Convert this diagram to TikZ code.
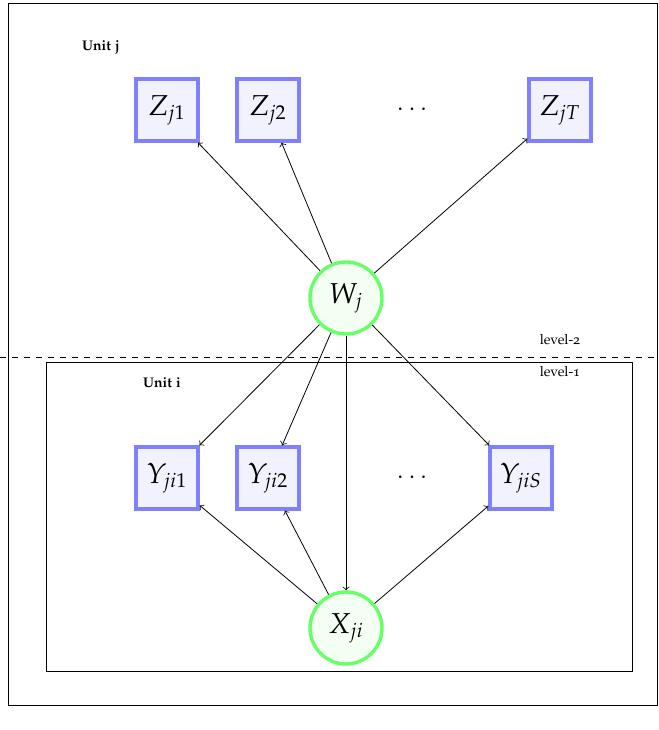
\documentclass[tikz,border=0pt]{standalone}
\usepackage[T1]{fontenc}
\usepackage[osf]{mathpazo}
\begin{document}
\begin{tikzpicture}[x=0.5pt,y=-0.5pt,
  obs/.style={draw=blue!50, fill=blue!5, line width=1.7pt, minimum size=31pt, inner sep=0pt, font=\Large},
  lat/.style={circle, draw=green!60, fill=green!5, line width=1.7pt, minimum size=36pt, inner sep=0pt, font=\Large},
  lbl/.style={font=\scriptsize},
  arr/.style={->, line width=0.4pt},
  frame/.style={draw, line width=0.4pt}]
\useasboundingbox (0,0) rectangle (659,730);
\draw[frame] (8,3) rectangle (657,705);
\draw[frame] (46,362) rectangle (632,671);
\draw[dashed, line width=0.4pt] (0,357) -- (659,357);
\node[lbl] (uj) at (101,47) {\textbf{Unit j}};
\node[lbl] (ui) at (162,383) {\textbf{Unit i}};
\node[lbl] (l2) at (560,340) {level-2};
\node[lbl] (l1) at (560,372) {level-1};
\node[obs] (z1) at (167,110) {$Z_{j1}$};
\node[obs] (z2) at (268,110) {$Z_{j2}$};
\node[font=\large] (zd) at (412,110) {$\cdots$};
\node[obs] (zt) at (560,110) {$Z_{jT}$};
\node[lat] (w) at (346,298) {$W_j$};
\node[obs] (y1) at (167,478) {$Y_{ji1}$};
\node[obs] (y2) at (268,478) {$Y_{ji2}$};
\node[font=\large] (yd) at (412,478) {$\cdots$};
\node[obs] (ys) at (521,478) {$Y_{jiS}$};
\node[lat] (x) at (346,628) {$X_{ji}$};
\foreach \t in {z1,z2,zt,y1,y2,ys,x} \draw[arr] (w) -- (\t);
\foreach \t in {y1,y2,ys} \draw[arr] (x) -- (\t);
\end{tikzpicture}
\end{document}
